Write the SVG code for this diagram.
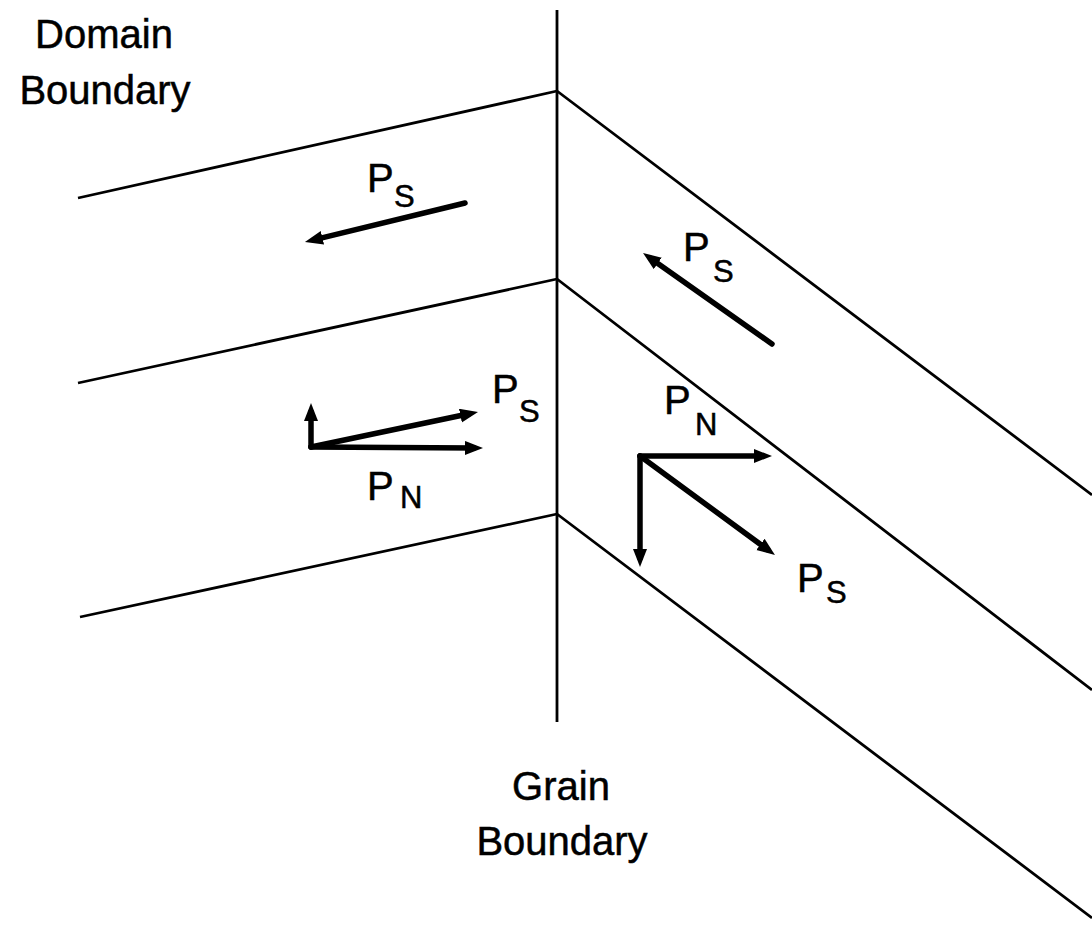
<svg xmlns="http://www.w3.org/2000/svg" width="1092" height="927" viewBox="0 0 1092 927">
<style>
.b{stroke:#000;stroke-width:2.8;fill:none;stroke-linejoin:round}
.a{stroke:#000;stroke-width:5.5;fill:none;stroke-linecap:round;marker-end:url(#ah)}
text{font-family:"Liberation Sans",Arial,sans-serif;fill:#000;font-size:40px;stroke:#000;stroke-width:0.5}
.s{font-size:31px}
</style>
<defs>
<marker id="ah" markerUnits="userSpaceOnUse" markerWidth="20" markerHeight="16" refX="9" refY="7" orient="auto" viewBox="0 0 20 16">
<path d="M0,0 L18,7 L0,14 z" fill="#000"/>
</marker>
</defs>
<rect width="1092" height="927" fill="#fff"/>
<g id="boundaries">
<line class="b" x1="557" y1="10" x2="557" y2="722"/>
<polyline class="b" points="78,198 557,91 1092,495"/>
<polyline class="b" points="78,383 557,279 1092,690"/>
<polyline class="b" points="80,617 557,514 1092,918"/>
</g>
<g id="arrows">
<line class="a" x1="465" y1="203" x2="313.7" y2="239.9"/>
<line class="a" x1="772" y1="344" x2="650.4" y2="258.2"/>
<line class="a" x1="311" y1="447" x2="311" y2="412"/>
<line class="a" x1="311" y1="447" x2="474" y2="448"/>
<line class="a" x1="311" y1="447" x2="469.2" y2="413.8"/>
<line class="a" x1="640" y1="456" x2="763" y2="456"/>
<line class="a" x1="640" y1="456" x2="640" y2="558"/>
<line class="a" x1="640" y1="456" x2="767.7" y2="549.7"/>
</g>
<g id="labels">
<text x="104" y="48" text-anchor="middle">Domain</text>
<text x="105" y="104" text-anchor="middle">Boundary</text>
<text x="561" y="800" text-anchor="middle">Grain</text>
<text x="562" y="855" text-anchor="middle">Boundary</text>
<text x="367" y="192">P</text><text class="s" x="394" y="207">S</text>
<text x="683" y="261">P</text><text class="s" x="713" y="282">S</text>
<text x="492" y="403">P</text><text class="s" x="519" y="422">S</text>
<text x="367" y="500">P</text><text class="s" x="400" y="508">N</text>
<text x="664" y="414">P</text><text class="s" x="695" y="435">N</text>
<text x="797" y="592">P</text><text class="s" x="826" y="603">S</text>
</g>
</svg>
